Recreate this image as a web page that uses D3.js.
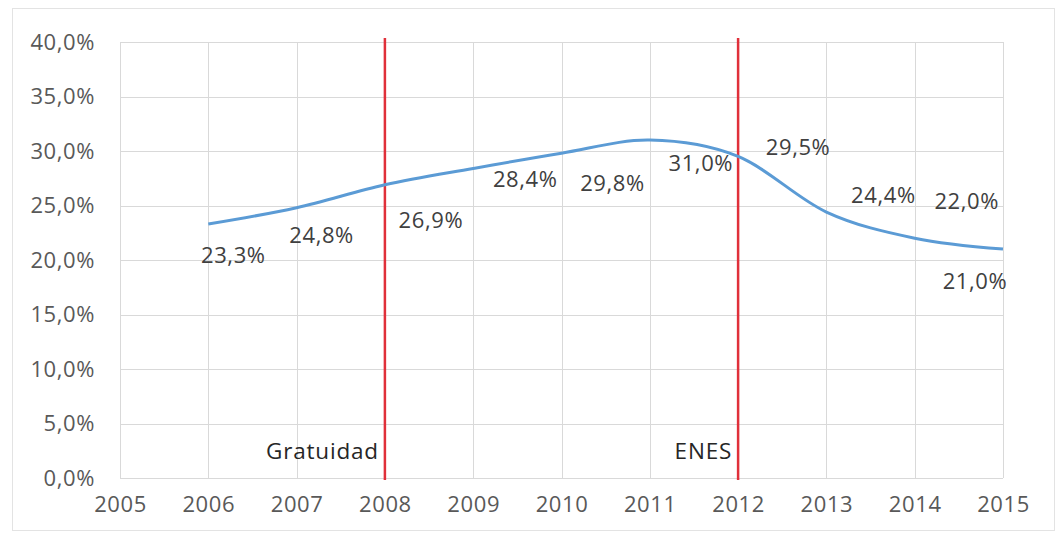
<!DOCTYPE html>
<html>
<head>
<meta charset="utf-8">
<script src="https://cdnjs.cloudflare.com/ajax/libs/d3/7.8.5/d3.min.js"></script>
<style>
  body { margin: 0; background: #fff; }
  svg { display: block; font-family: "Open Sans", sans-serif; }
</style>
</head>
<body>
<svg></svg>
<script>
var screen = {width: 1059, height: 535};
var margins = {top: 42, right: 56, bottom: 57, left: 120};

var years = [2006, 2007, 2008, 2009, 2010, 2011, 2012, 2013, 2014, 2015];
var rates = [23.3, 24.8, 26.9, 28.4, 29.8, 31.0, 29.5, 24.4, 22.0, 21.0];
var yTicks = [0, 5, 10, 15, 20, 25, 30, 35, 40];
var xTicks = [2005, 2006, 2007, 2008, 2009, 2010, 2011, 2012, 2013, 2014, 2015];
var events = [{year: 2008, label: "Gratuidad"}, {year: 2012, label: "ENES"}];

// where Excel dropped each data label, relative to its point
var labelOffsets = [[25, 33], [25, 29], [46, 37], [52, 13], [51, 32],
                    [51, 25], [60, -7], [57, -15], [52, -35], [-28, 34]];

var fmt = function(v) { return d3.format(".1f")(v).replace(".", ",") + "%"; };

var svg = d3.select("svg")
    .attr("width", screen.width)
    .attr("height", screen.height);

var width = screen.width - margins.left - margins.right;
var height = screen.height - margins.top - margins.bottom;

// outer frame
svg.append("rect")
    .attr("x", 12.5).attr("y", 8.5)
    .attr("width", 1042).attr("height", 522)
    .attr("fill", "none")
    .attr("stroke", "#e3e3e3");

var graph = svg.append("g")
    .attr("id", "graph")
    .attr("transform", "translate(" + margins.left + "," + margins.top + ")");

var xScale = d3.scaleLinear()
                .domain([2005, 2015])
                .range([0, width]);

var yScale = d3.scaleLinear()
                .domain([0, 40])
                .range([height, 0]);

// grid
graph.append("g")
    .selectAll("line.h")
    .data(yTicks)
    .enter()
    .append("line")
    .attr("x1", 0).attr("x2", width)
    .attr("y1", function(d){return Math.round(yScale(d)) + 0.5;})
    .attr("y2", function(d){return Math.round(yScale(d)) + 0.5;})
    .attr("stroke", "#d9d9d9");

graph.append("g")
    .selectAll("line.v")
    .data(xTicks)
    .enter()
    .append("line")
    .attr("y1", 0).attr("y2", height)
    .attr("x1", function(d){return Math.round(xScale(d)) + 0.5;})
    .attr("x2", function(d){return Math.round(xScale(d)) + 0.5;})
    .attr("stroke", "#d9d9d9");

// axes (labels only)
var yAxis = d3.axisLeft(yScale).tickValues(yTicks).tickSize(0).tickPadding(25)
    .tickFormat(fmt);
var xAxis = d3.axisBottom(xScale).tickValues(xTicks).tickSize(0).tickPadding(18)
    .tickFormat(d3.format("d"));

graph.append("g").attr("id", "yAxis").call(yAxis);
graph.append("g").attr("id", "xAxis")
    .attr("transform", "translate(0," + height + ")")
    .call(xAxis);

graph.selectAll("#yAxis, #xAxis").select(".domain").remove();
graph.selectAll("#yAxis text, #xAxis text")
    .attr("fill", "#595959")
    .style("font-family", "'Open Sans', sans-serif")
    .style("font-size", "22px")
    .style("letter-spacing", "0.6px");
graph.selectAll("#xAxis text").attr("dy", "0.71em");

// event markers
graph.append("g")
    .selectAll("line")
    .data(events)
    .enter()
    .append("line")
    .attr("x1", function(d){return xScale(d.year);})
    .attr("x2", function(d){return xScale(d.year);})
    .attr("y1", -4).attr("y2", height + 2)
    .attr("stroke", "#e0303a")
    .attr("stroke-width", 2.5);

graph.append("g")
    .selectAll("text")
    .data(events)
    .enter()
    .append("text")
    .attr("x", function(d){return xScale(d.year) - 6;})
    .attr("y", yScale(2.3))
    .attr("text-anchor", "end")
    .attr("dominant-baseline", "middle")
    .attr("fill", "#262626")
    .style("font-size", "22.5px")
    .style("letter-spacing", "0.8px")
    .text(function(d){return d.label;});

// series
var lineGenerator = d3.line()
    .x(function(d, i){return xScale(years[i]);})
    .y(function(d){return yScale(d);})
    .curve(d3.curveCatmullRom.alpha(0));

graph.append("path")
    .datum(rates)
    .attr("d", lineGenerator)
    .attr("fill", "none")
    .attr("stroke", "#5b9bd5")
    .attr("stroke-width", 3);

graph.append("g")
    .selectAll("text")
    .data(rates)
    .enter()
    .append("text")
    .attr("x", function(d, i){return xScale(years[i]) + labelOffsets[i][0];})
    .attr("y", function(d, i){return yScale(d) + labelOffsets[i][1];})
    .attr("text-anchor", "middle")
    .attr("dominant-baseline", "middle")
    .attr("fill", "#404040")
    .style("font-size", "22px")
    .style("letter-spacing", "0.6px")
    .text(fmt);
</script>
</body>
</html>
